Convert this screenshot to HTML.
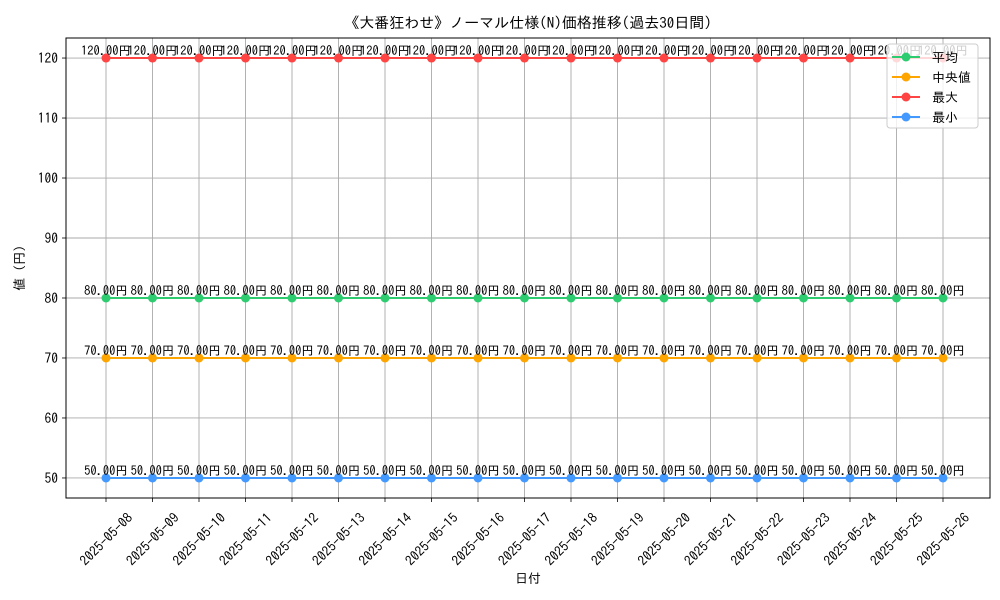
<!DOCTYPE html>
<html><head><meta charset="utf-8"><style>
body{margin:0;background:#fff;}
svg{display:block;font-family:"IPAGothic","Noto Sans CJK JP",sans-serif;}
</style></head><body>
<svg id="c" width="1000" height="600"></svg>
<script>
const dates=["2025-05-08","2025-05-09","2025-05-10","2025-05-11","2025-05-12","2025-05-13","2025-05-14","2025-05-15","2025-05-16","2025-05-17","2025-05-18","2025-05-19","2025-05-20","2025-05-21","2025-05-22","2025-05-23","2025-05-24","2025-05-25","2025-05-26"];
const avgVals=[80,80,80,80,80,80,80,80,80,80,80,80,80,80,80,80,80,80,80];
const medVals=[70,70,70,70,70,70,70,70,70,70,70,70,70,70,70,70,70,70,70];
const maxVals=[120,120,120,120,120,120,120,120,120,120,120,120,120,120,120,120,120,120,120];
const minVals=[50,50,50,50,50,50,50,50,50,50,50,50,50,50,50,50,50,50,50];
const yTicks=[50,60,70,80,90,100,110,120];
const NS="http://www.w3.org/2000/svg";
const svg=document.getElementById('c');
const L=66,R=990,T=38,B=498;
const yMin=46.66,yMax=123.34;
const x0=106,x1=943;
function xs(i){return x0+(x1-x0)*i/(dates.length-1);}
function ys(v){return B-(v-yMin)/(yMax-yMin)*(B-T);}
function mk(tag,attrs,parent){const e=document.createElementNS(NS,tag);for(const k in attrs)e.setAttribute(k,attrs[k]);(parent||svg).appendChild(e);return e;}
function txt(s,attrs,parent){const e=mk('text',attrs,parent);e.textContent=s;return e;}
const grid=mk('g',{});


dates.forEach((d,i)=>{const x=xs(i);
 mk('line',{x1:x,x2:x,y1:T,y2:B,stroke:'#aaaaaa','stroke-width':0.9},grid);
 mk('line',{x1:x,x2:x,y1:B,y2:B+4,stroke:'#000','stroke-width':0.8});
 const cy=B+41;
 const t=txt(d,{x:x,y:cy+5,'font-size':13.5,'text-anchor':'middle',transform:`rotate(-45 ${x} ${cy})`});
 
 
});
yTicks.forEach(v=>{const y=ys(v);
 mk('line',{x1:L,x2:R,y1:y,y2:y,stroke:'#aaaaaa','stroke-width':0.9},grid);
 mk('line',{x1:L-4,x2:L,y1:y,y2:y,stroke:'#000','stroke-width':0.8});
 const t=txt(String(v),{x:L-8,y:y+5,'font-size':13.5,'text-anchor':'end'});
 
 
});
const series=[["avg",avgVals,"#2ecc71","平均"],["median",medVals,"#ffa500","中央値"],["max",maxVals,"#ff4444","最大"],["min",minVals,"#4499ff","最小"]];
series.forEach(([n,vals,col])=>{
 const g=mk('g',{});
 
 
 mk('polyline',{points:vals.map((v,i)=>xs(i)+','+ys(v)).join(' '),fill:'none',stroke:col,'stroke-width':2},g);
 vals.forEach((v,i)=>{
  const c=mk('circle',{cx:xs(i),cy:ys(v),r:4.5,fill:col},g);
  
  
  const t=txt(v.toFixed(2)+'円',{x:xs(i),y:ys(v)-3,'font-size':12.5,'text-anchor':'middle'},g);
  
  
 });
});
mk('rect',{x:L,y:T,width:R-L,height:B-T,fill:'none',stroke:'#000','stroke-width':1});
const title=txt('《大番狂わせ》ノーマル仕様(N)価格推移(過去30日間)',{x:(L+R)/2,y:28,'font-size':15,'text-anchor':'middle'});


const xt=txt('日付',{x:(L+R)/2,y:583,'font-size':13,'text-anchor':'middle'});


const yt=txt('値 (円)',{x:24,y:(T+B)/2,'font-size':13,'text-anchor':'middle',transform:`rotate(-90 24 ${(T+B)/2})`});


const lg=mk('g',{});


mk('rect',{x:887,y:44,width:91,height:84,rx:3,fill:'rgba(255,255,255,0.8)',stroke:'#ccc'},lg);
series.forEach(([n,vals,col,lab],k)=>{const y=57+k*20;
 mk('line',{x1:892,x2:920,y1:y,y2:y,stroke:col,'stroke-width':2},lg);
 mk('circle',{cx:906,cy:y,r:4.5,fill:col},lg);
 const t=txt(lab,{x:932,y:y+5,'font-size':13},lg);
 
 
});
</script>
</body></html>
